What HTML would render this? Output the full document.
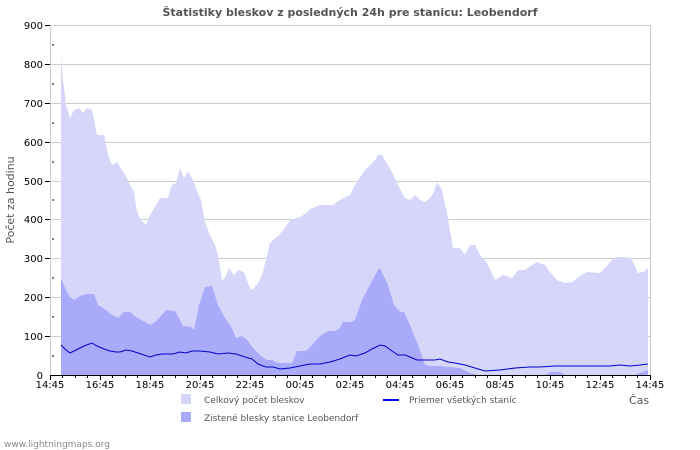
<!DOCTYPE html>
<html><head><meta charset="utf-8"><style>
body{margin:0;background:#fff;}
svg{display:block;font-family:"DejaVu Sans","Liberation Sans",sans-serif;}
</style></head><body>
<svg width="700" height="450" viewBox="0 0 700 450">
<rect width="700" height="450" fill="#fff"/>
<text x="350" y="16" text-anchor="middle" font-size="11" font-weight="bold" fill="#555">Štatistiky bleskov z posledných 24h pre stanicu: Leobendorf</text>
<g stroke="#cccccc" stroke-width="1">
<line x1="50" y1="25.5" x2="650" y2="25.5"/>
<line x1="50" y1="64.5" x2="650" y2="64.5"/>
<line x1="50" y1="103.5" x2="650" y2="103.5"/>
<line x1="50" y1="142.5" x2="650" y2="142.5"/>
<line x1="50" y1="181.5" x2="650" y2="181.5"/>
<line x1="50" y1="219.5" x2="650" y2="219.5"/>
<line x1="50" y1="258.5" x2="650" y2="258.5"/>
<line x1="50" y1="297.5" x2="650" y2="297.5"/>
<line x1="50" y1="336.5" x2="650" y2="336.5"/>
<line x1="650.5" y1="25" x2="650.5" y2="375"/>
<line x1="50.5" y1="25" x2="50.5" y2="375"/>
</g>
<polygon fill="#d6d6fa" points="61,375 61,57 63,80 66,105 70,118 74,110 79,108 83,113 87,108 92,110 97,135 104,135 108,155 112,165 117,162 122,170 127,178 131,187 134,192 137,212 141,220 146,225 150,215 155,207 160,198 168,198 172,185 176,183 180,168 184,178 188,172 193,180 197,191 201,200 205,222 210,235 215,245 218,255 222,280 225,278 229,268 234,275 238,270 244,272 248,283 251,290 254,288 258,283 262,275 266,260 270,243 279,235 285,228 290,220 300,217 305,214 310,209 320,205 333,205 340,200 350,195 355,185 365,170 375,160 378,155 382,155 388,165 392,172 398,185 405,198 410,200 415,195 420,200 425,202 430,198 434,192 437,182 442,190 447,213 453,248 460,248 465,255 470,245 475,245 480,255 487,263 495,280 503,275 512,278 518,270 525,270 532,265 537,262 545,265 550,272 557,280 565,283 572,282 580,276 587,272 600,273 605,268 612,260 617,257 625,257 631,258 638,273 643,272 648,268 648,375"/>
<polygon fill="#aaaafa" points="61,375 61,278 66,290 70,297 74,300 80,296 86,294 94,294 98,305 106,310 112,315 118,318 124,312 130,312 136,317 145,322 150,325 155,322 160,317 166,310 175,311 180,320 183,326 191,327 194,330 199,305 205,287 212,286 218,305 225,318 232,328 236,338 242,336 247,340 253,348 258,353 261,356 267,360 272,360 278,363 292,363 297,351 306,351 312,345 320,336 328,331 335,331 340,328 343,322 351,322 355,320 362,300 370,285 378,270 380,268 388,285 394,305 400,312 404,312 410,325 418,345 425,365 430,366 440,366 460,368 470,373 478,375 545,375 550,372 560,372 565,375 635,375 645,371 648,370 648,375"/>
<polyline fill="none" stroke="#0000cc" stroke-width="1" points="61,345 66,350 70,353 76,350 84,346 92,343 97,346 104,349 110,351 116,352 120,352 126,350 132,351 138,353 144,355 150,357 156,355 162,354 173,354 180,352 186,353 192,351 200,351 210,352 218,354 228,353 236,354 245,357 252,359 258,364 266,367 273,367 280,369 290,368 300,366 310,364 320,364 330,362 340,359 350,355 356,356 365,353 372,349 378,346 380,345 385,346 392,351 398,355 405,355 410,357 417,360 425,360 435,360 440,359 448,362 455,363 465,365 475,368 485,371 500,370 515,368 530,367 540,367 555,366 570,366 585,366 600,366 610,366 620,365 630,366 640,365 648,364"/>
<line x1="50" y1="375.5" x2="650" y2="375.5" stroke="#000"/>
<g stroke="#000" stroke-width="1">
<line x1="45" y1="25.5" x2="50" y2="25.5"/><line x1="45" y1="64.5" x2="50" y2="64.5"/><line x1="45" y1="103.5" x2="50" y2="103.5"/><line x1="45" y1="142.5" x2="50" y2="142.5"/><line x1="45" y1="181.5" x2="50" y2="181.5"/><line x1="45" y1="219.5" x2="50" y2="219.5"/><line x1="45" y1="258.5" x2="50" y2="258.5"/><line x1="45" y1="297.5" x2="50" y2="297.5"/><line x1="45" y1="336.5" x2="50" y2="336.5"/>
<line x1="52" y1="45" x2="54" y2="45"/><line x1="52" y1="84" x2="54" y2="84"/><line x1="52" y1="123" x2="54" y2="123"/><line x1="52" y1="162" x2="54" y2="162"/><line x1="52" y1="200" x2="54" y2="200"/><line x1="52" y1="239" x2="54" y2="239"/><line x1="52" y1="278" x2="54" y2="278"/><line x1="52" y1="317" x2="54" y2="317"/><line x1="52" y1="356" x2="54" y2="356"/>
</g>
<g stroke="#000">
<path d="M50.5 375v5M100.5 375v5M150.5 375v5M200.5 375v5M250.5 375v5M300.5 375v5M350.5 375v5M400.5 375v5M450.5 375v5M500.5 375v5M550.5 375v5M600.5 375v5M650.5 375v5"/>
<path d="M62.5 375v3M75.5 375v3M87.5 375v3M112.5 375v3M125.5 375v3M137.5 375v3M162.5 375v3M175.5 375v3M187.5 375v3M212.5 375v3M225.5 375v3M237.5 375v3M262.5 375v3M275.5 375v3M287.5 375v3M312.5 375v3M325.5 375v3M337.5 375v3M362.5 375v3M375.5 375v3M387.5 375v3M412.5 375v3M425.5 375v3M437.5 375v3M462.5 375v3M475.5 375v3M487.5 375v3M512.5 375v3M525.5 375v3M537.5 375v3M562.5 375v3M575.5 375v3M587.5 375v3M612.5 375v3M625.5 375v3M637.5 375v3"/>
</g>
<g font-size="10" fill="#000" text-anchor="end">
<text x="43" y="29">900</text><text x="43" y="68">800</text><text x="43" y="107">700</text><text x="43" y="146">600</text><text x="43" y="185">500</text><text x="43" y="223">400</text><text x="43" y="262">300</text><text x="43" y="301">200</text><text x="43" y="340">100</text><text x="43" y="379">0</text>
</g>
<g font-size="10" fill="#000" text-anchor="middle">
<text x="50" y="388">14:45</text><text x="100" y="388">16:45</text><text x="150" y="388">18:45</text><text x="200" y="388">20:45</text><text x="250" y="388">22:45</text><text x="300" y="388">00:45</text><text x="350" y="388">02:45</text><text x="400" y="388">04:45</text><text x="450" y="388">06:45</text><text x="500" y="388">08:45</text><text x="550" y="388">10:45</text><text x="600" y="388">12:45</text><text x="650" y="388">14:45</text>
</g>
<text x="14" y="200" font-size="11" fill="#555" text-anchor="middle" transform="rotate(-90 14 200)">Počet za hodinu</text>
<text x="629" y="404" font-size="11" fill="#555">Čas</text>
<rect x="181" y="394" width="10" height="10" fill="#d6d6fa"/>
<text x="204" y="403" font-size="9" fill="#555">Celkový počet bleskov</text>
<rect x="181" y="412" width="10" height="10" fill="#aaaafa"/>
<text x="204" y="421" font-size="9" fill="#555">Zistené blesky stanice Leobendorf</text>
<line x1="383" y1="400" x2="399" y2="400" stroke="#0000ee" stroke-width="2"/>
<text x="409" y="403" font-size="9" fill="#555">Priemer všetkých staníc</text>
<text x="4" y="447" font-size="9" fill="#888">www.lightningmaps.org</text>
</svg>
</body></html>
